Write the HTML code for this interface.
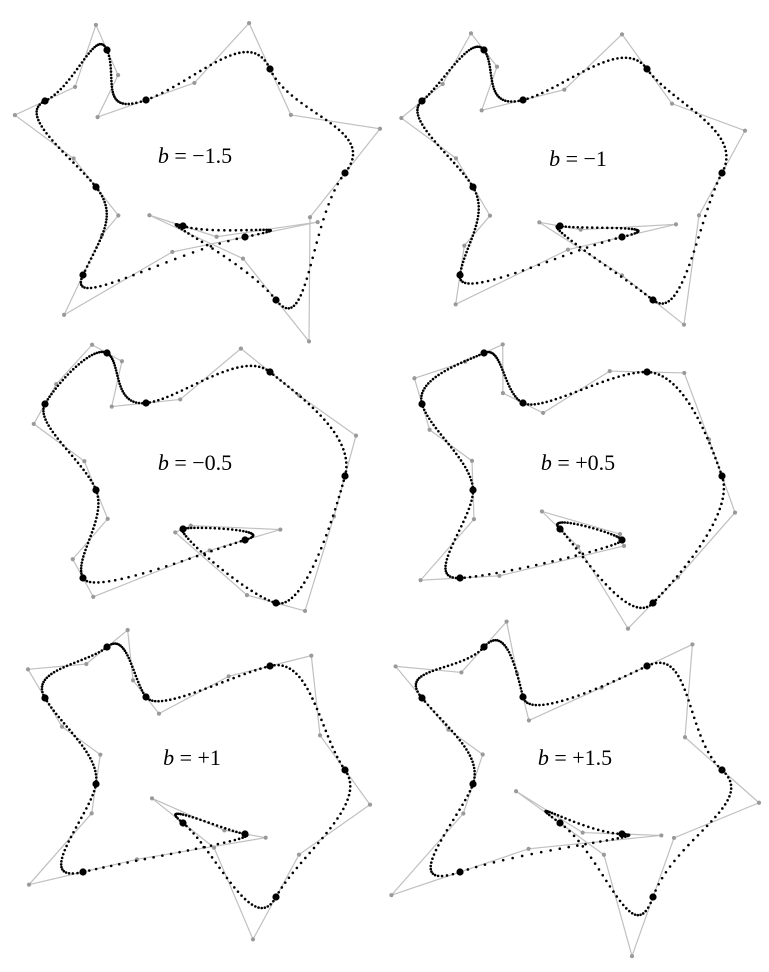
<!DOCTYPE html>
<html><head><meta charset="utf-8">
<style>
html,body{margin:0;padding:0;background:#fff;}
svg{display:block;}
.lbl{font-family:"Liberation Serif","Times New Roman",Times,serif;font-size:22px;}
</style></head>
<body>
<svg id="chart" width="769" height="972" viewBox="0 0 769 972" xmlns="http://www.w3.org/2000/svg"></svg>
<script>
// Key points (closed curve) in local panel coordinates
const keyX = [45, 107, 146, 270, 345, 276, 183, 245, 83, 96];
const keyY = [101, 50, 100, 69, 173, 300, 226, 237, 275, 187];
const biases = [-1.5, -1, -0.5, 0.5, 1, 1.5];
const biasLabels = ["b = \u22121.5", "b = \u22121", "b = \u22120.5", "b = +0.5", "b = +1", "b = +1.5"];
const panelOX = [0, 377, 0, 377, 0, 377];
const panelOY = [0, 0, 303, 303, 597, 597];
const labelX = [195, 578, 195, 578, 192, 575];
const labelY = [163, 166, 470, 470, 765, 765];

const NS = "http://www.w3.org/2000/svg";
const svg = document.getElementById('chart');
function mk(tag, attrs, parent){
  const e = document.createElementNS(NS, tag);
  for (const k in attrs) e.setAttribute(k, attrs[k]);
  parent.appendChild(e);
  return e;
}
const n = keyX.length;
const dotsPerSeg = 27;
biases.forEach((b, pi) => {
  const g = mk('g', {transform:`translate(${panelOX[pi]},${panelOY[pi]})`}, svg);
  
  
  const P = keyX.map((x,i)=>[x, keyY[i]]);
  const T = P.map((p,i)=>{
    const a = P[(i-1+n)%n], c = P[(i+1)%n];
    const w1=(1+b)/2, w2=(1-b)/2;
    return [w1*(p[0]-a[0])+w2*(c[0]-p[0]), w1*(p[1]-a[1])+w2*(c[1]-p[1])];
  });
  const Cp = P.map((p,i)=>[p[0]+T[i][0]/3, p[1]+T[i][1]/3]);
  const Cm = P.map((p,i)=>[p[0]-T[i][0]/3, p[1]-T[i][1]/3]);
  let poly = [];
  for (let i=0;i<n;i++){ poly.push(Cm[i], P[i], Cp[i]); }
  const pl = mk('polygon', {points: poly.map(p=>p.join(',')).join(' '), fill:'none', stroke:'#c0c0c0', 'stroke-width':1.2}, g);
  
  
  for (let i=0;i<n;i++){
    [Cm[i], Cp[i]].forEach(c=>{
      const d = mk('circle', {cx:c[0], cy:c[1], r:2.1, fill:'#9a9a9a'}, g);
      
      
    });
  }
  for (let i=0;i<n;i++){
    const p0=P[i], p1=Cp[i], p2=Cm[(i+1)%n], p3=P[(i+1)%n];
    for (let s=0;s<dotsPerSeg;s++){
      const t=s/dotsPerSeg, u=1-t;
      const x=u*u*u*p0[0]+3*u*u*t*p1[0]+3*u*t*t*p2[0]+t*t*t*p3[0];
      const y=u*u*u*p0[1]+3*u*u*t*p1[1]+3*u*t*t*p2[1]+t*t*t*p3[1];
      const d = mk('circle', {cx:x, cy:y, r:1.3, fill:'#000'}, g);
      
      
    }
  }
  P.forEach(p=>{
    const d = mk('circle', {cx:p[0], cy:p[1], r:3.6, fill:'#000'}, g);
    
    
  });
  const parts = biasLabels[pi].split(' = ');
  const t = mk('text', {x:labelX[pi]-panelOX[pi], y:labelY[pi]-panelOY[pi], 'text-anchor':'middle', 'class':'lbl'}, g);
  
  
  const ts = mk('tspan', {'font-style':'italic'}, t);
  ts.textContent = parts[0];
  const ts2 = mk('tspan', {}, t);
  ts2.textContent = ' = ' + parts[1];
});
</script>
</body></html>
